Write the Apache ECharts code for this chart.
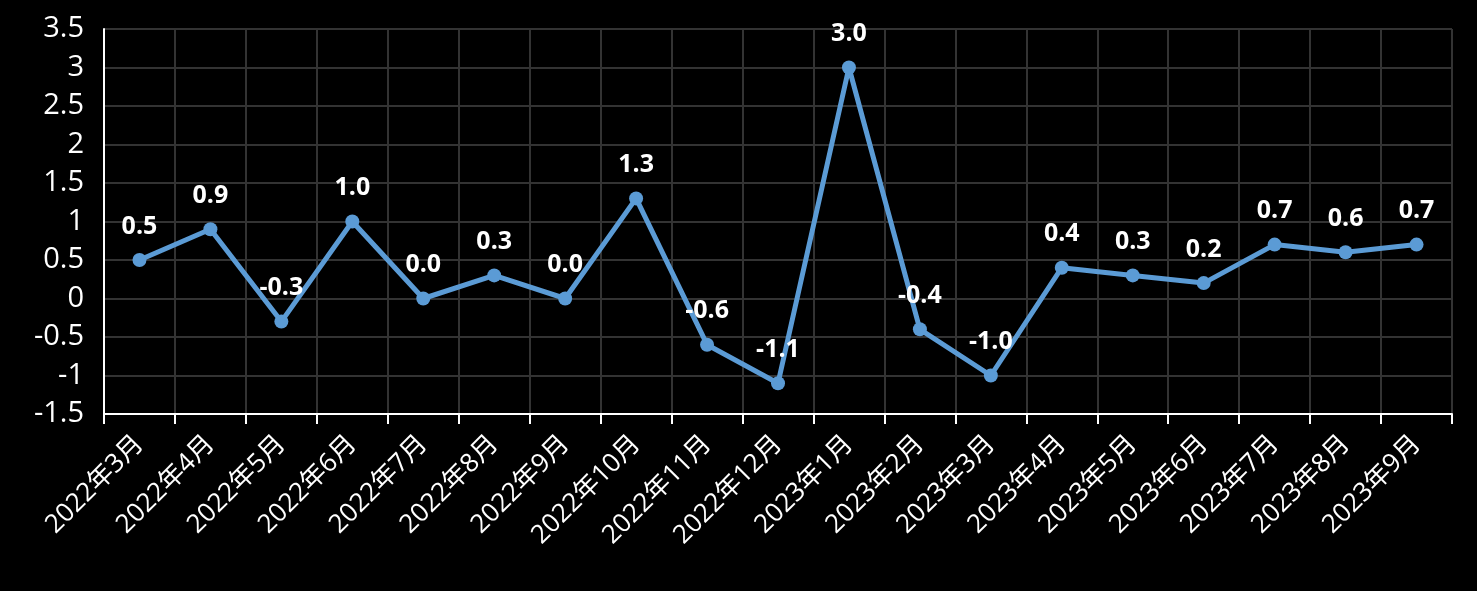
<!DOCTYPE html>
<html><head><meta charset="utf-8">
<script src="https://cdn.jsdelivr.net/npm/echarts@6/dist/echarts.min.js"></script>
<style>html,body{margin:0;padding:0;background:#000;}#c{width:1477px;height:591px;}</style>
</head><body><div id="c"></div>
<script>
const categories = ['2022年3月','2022年4月','2022年5月','2022年6月','2022年7月','2022年8月','2022年9月','2022年10月','2022年11月','2022年12月','2023年1月','2023年2月','2023年3月','2023年4月','2023年5月','2023年6月','2023年7月','2023年8月','2023年9月'];
const values = [0.5,0.9,-0.3,1.0,0.0,0.3,0.0,1.3,-0.6,-1.1,3.0,-0.4,-1.0,0.4,0.3,0.2,0.7,0.6,0.7];
const chart = echarts.init(document.getElementById('c'));
const font = '"Open Sans","Noto Sans CJK SC",sans-serif';
chart.setOption({
  backgroundColor:'#000',
  animation:false,
  grid:{left:104,right:25,top:29,bottom:177,containLabel:false},
  xAxis:{type:'category',data:categories,boundaryGap:true,
    axisLine:{onZero:false,lineStyle:{color:'#fff',width:2}},
    axisTick:{show:true,alignWithLabel:false,length:10,lineStyle:{color:'#fff',width:2}},
    axisLabel:{color:'#fff',fontSize:26,rotate:45,fontFamily:font,margin:26,interval:0},
    splitLine:{show:true,interval:0,lineStyle:{color:'#333',width:2}}
  },
  yAxis:{type:'value',min:-1.5,max:3.5,interval:0.5,
    axisLine:{show:true,lineStyle:{color:'#fff',width:2}},
    axisTick:{show:false},
    axisLabel:{color:'#fff',fontSize:29,fontFamily:font,margin:20},
    splitLine:{show:true,lineStyle:{color:'#333',width:2}}
  },
  series:[{type:'line',data:values,
    lineStyle:{color:'#5B9BD5',width:5},
    itemStyle:{color:'#5B9BD5'},
    symbol:'circle',symbolSize:14,
    label:{show:true,position:'top',distance:14,color:'#fff',fontWeight:'bold',fontSize:25,fontFamily:font,
      formatter:p=>p.value.toFixed(1)}
  }]
});
</script></body></html>
